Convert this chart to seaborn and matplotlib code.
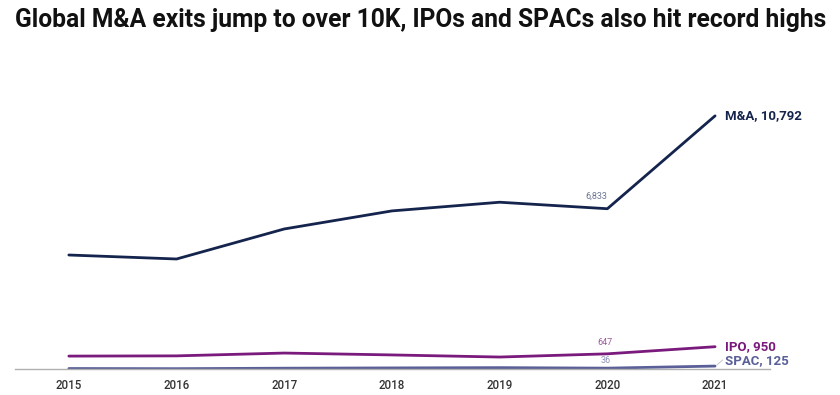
import numpy as np
import pandas as pd
import matplotlib.pyplot as plt
import seaborn as sns

# exit counts by year
years = [2015, 2016, 2017, 2018, 2019, 2020, 2021]
ma_exits = [4860, 4690, 5970, 6740, 7110, 6833, 10792]
ipo_exits = [550, 560, 680, 600, 510, 647, 950]
spac_exits = [20, 14, 34, 46, 58, 36, 125]

series = ['M&A', 'IPO', 'SPAC']
colors = {'M&A': '#14244d', 'IPO': '#7a1a7c', 'SPAC': '#5a5f98'}
label_colors = {'M&A': '#6b7794', 'IPO': '#9a5a9c', 'SPAC': '#8f93bb'}

df = pd.DataFrame({
    'Year': years * 3,
    'Exits': ma_exits + ipo_exits + spac_exits,
    'Type': ['M&A'] * 7 + ['IPO'] * 7 + ['SPAC'] * 7,
})

sns.set_style('white')
plt.rcParams['font.family'] = ['Roboto', 'DejaVu Sans']

fig = plt.figure(figsize=(8.4, 3.95), dpi=100)
ax = fig.add_axes([15 / 840, 26 / 395, 755 / 840, 319 / 395])

sns.lineplot(data=df, x='Year', y='Exits', hue='Type', palette=colors,
             linewidth=2, legend=False, ax=ax)

ax.set_xlim(2014.5, 2021.51)
ax.set_ylim(0, 13600)
for s in ['top', 'right', 'left']:
    ax.spines[s].set_visible(False)
ax.spines['bottom'].set_color('#b0b0b0')
ax.spines['bottom'].set_linewidth(1)
ax.set_yticks([])
ax.set_xticks(years)
ax.set_xticklabels([str(y) for y in years])
ax.tick_params(axis='x', length=0, pad=7, labelsize=8.3, labelcolor='#333333')
for t in ax.get_xticklabels():
    t.set_fontweight('medium')
ax.set_xlabel('')
ax.set_ylabel('')

# end labels
ends = {'M&A': ma_exits[-1], 'IPO': ipo_exits[-1], 'SPAC': spac_exits[-1]}
offsets = {'M&A': (7, 0), 'IPO': (7, 0), 'SPAC': (7, 4)}
for name in series:
    ax.annotate(f'{name}, {ends[name]:,}', xy=(years[-1], ends[name]),
                xytext=offsets[name], textcoords='offset points',
                ha='left', va='center', fontsize=9.5, fontweight='bold',
                color=colors[name])
ax.plot([2021.02, 2021.07], [spac_exits[-1] + 60, spac_exits[-1] + 260],
        color='#c8c8c8', linewidth=0.7)

# 2020 value labels
vals_2020 = {'M&A': ma_exits[5], 'IPO': ipo_exits[5], 'SPAC': spac_exits[5]}
label_off = {'M&A': (-8, 6), 'IPO': (-2, 5), 'SPAC': (-1, 2)}
for name in series:
    ax.annotate(f'{vals_2020[name]:,}', xy=(2020, vals_2020[name]),
                xytext=label_off[name], textcoords='offset points',
                ha='center', va='bottom', fontsize=6.5, color=label_colors[name])

fig.text(15 / 840, 1 - 20 / 395, 'Global M&A exits jump to over 10K, IPOs and SPACs also hit record highs',
         fontsize=17.7, fontweight='bold', color='#111111', ha='left', va='center')

fig.savefig('out.png', dpi=100)
